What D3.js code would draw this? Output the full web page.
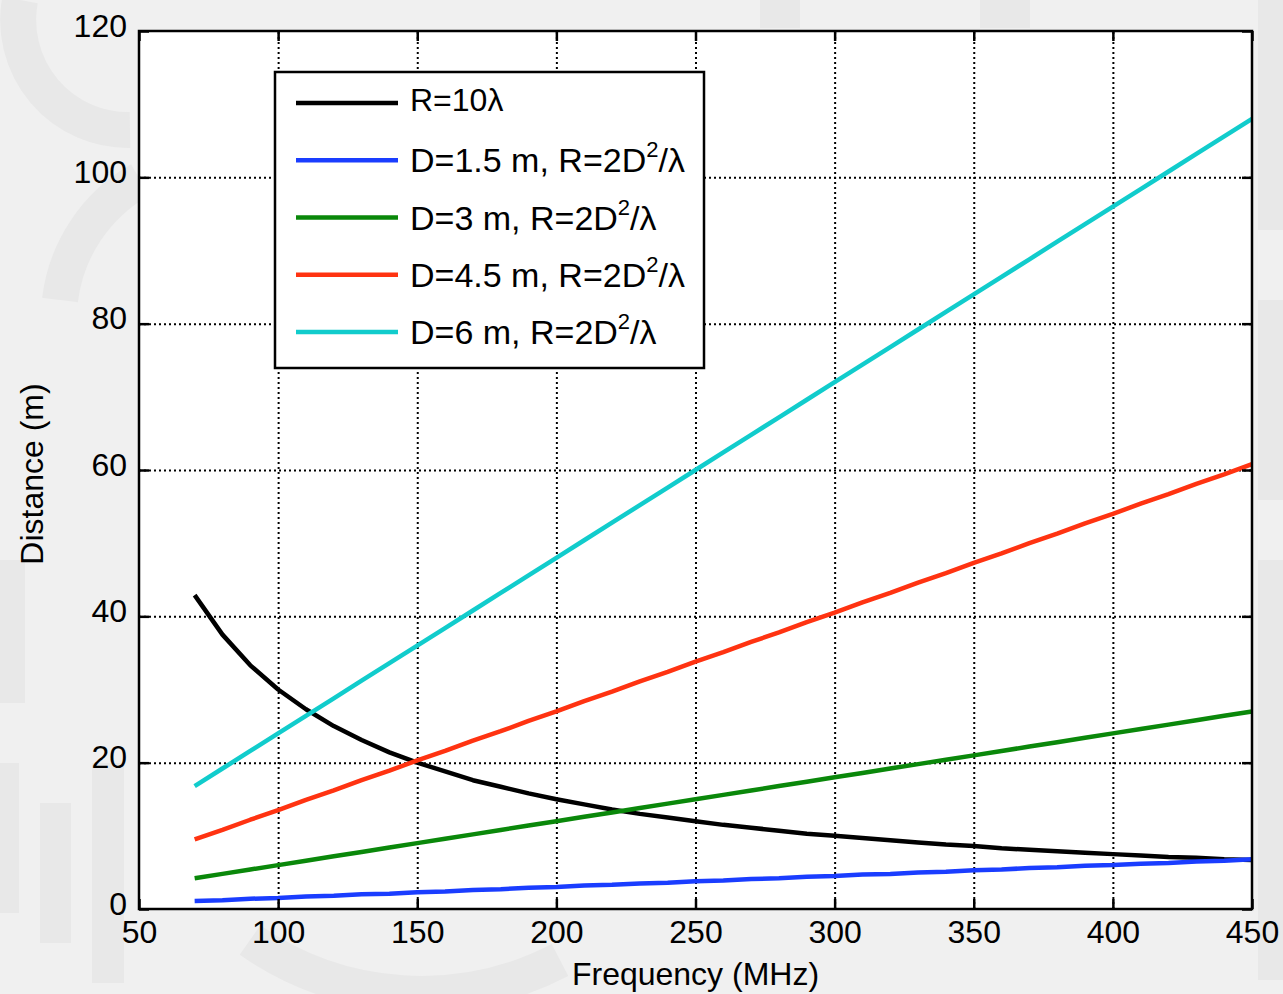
<!DOCTYPE html>
<html>
<head>
<meta charset="utf-8">
<script src="https://cdn.jsdelivr.net/npm/d3@7"></script>
<style>
  body { margin: 0; background: #f0f0f0; }
  svg { display: block; font-family: "Liberation Sans", Arial, sans-serif; }
</style>
</head>
<body>
<div id="chart"></div>
<script>
// frequency samples (MHz)
const freq = [70, 80, 90, 100, 110, 120, 130, 140, 150, 160, 170, 180, 190, 200, 210, 220, 230, 240, 250, 260,
              270, 280, 290, 300, 310, 320, 330, 340, 350, 360, 370, 380, 390, 400, 410, 420, 430, 440, 450];

// distances (m)
const r10Lambda = [42.9, 37.5, 33.3, 30.0, 27.3, 25.0, 23.1, 21.4, 20.0, 18.8, 17.6, 16.7, 15.8, 15.0, 14.3, 13.6, 13.0, 12.5, 12.0, 11.5,
                   11.1, 10.7, 10.3, 10.0, 9.7, 9.4, 9.1, 8.8, 8.6, 8.3, 8.1, 7.9, 7.7, 7.5, 7.3, 7.1, 7.0, 6.8, 6.7];
const d15 = [1.1, 1.2, 1.4, 1.5, 1.7, 1.8, 2.0, 2.1, 2.3, 2.4, 2.6, 2.7, 2.9, 3.0, 3.2, 3.3, 3.5, 3.6, 3.8, 3.9,
             4.1, 4.2, 4.4, 4.5, 4.7, 4.8, 5.0, 5.1, 5.3, 5.4, 5.6, 5.7, 5.9, 6.0, 6.2, 6.3, 6.5, 6.6, 6.8];
const d3m = [4.2, 4.8, 5.4, 6.0, 6.6, 7.2, 7.8, 8.4, 9.0, 9.6, 10.2, 10.8, 11.4, 12.0, 12.6, 13.2, 13.8, 14.4, 15.0, 15.6,
             16.2, 16.8, 17.4, 18.0, 18.6, 19.2, 19.8, 20.4, 21.0, 21.6, 22.2, 22.8, 23.4, 24.0, 24.6, 25.2, 25.8, 26.4, 27.0];
const d45 = [9.5, 10.8, 12.2, 13.5, 14.9, 16.2, 17.6, 18.9, 20.3, 21.6, 23.0, 24.3, 25.7, 27.0, 28.4, 29.7, 31.1, 32.4, 33.8, 35.1,
             36.5, 37.8, 39.2, 40.5, 41.9, 43.2, 44.6, 45.9, 47.3, 48.6, 50.0, 51.3, 52.7, 54.0, 55.4, 56.7, 58.1, 59.4, 60.8];
const d6 = [16.8, 19.2, 21.6, 24.0, 26.4, 28.8, 31.2, 33.6, 36.0, 38.4, 40.8, 43.2, 45.6, 48.0, 50.4, 52.8, 55.2, 57.6, 60.0, 62.4,
            64.8, 67.2, 69.6, 72.0, 74.4, 76.8, 79.2, 81.6, 84.0, 86.4, 88.8, 91.2, 93.6, 96.0, 98.4, 100.8, 103.2, 105.6, 108.0];

const xTicks = [50, 100, 150, 200, 250, 300, 350, 400, 450];
const yTicks = [0, 20, 40, 60, 80, 100, 120];

// legend entries: main text, and whether it has the "2D^2/λ" tail
const series = [
  { name: "R=10λ", values: r10Lambda, color: "#000000", tail: false },
  { name: "D=1.5 m, R=2D", values: d15, color: "#1a3dff", tail: true },
  { name: "D=3 m, R=2D", values: d3m, color: "#0a880a", tail: true },
  { name: "D=4.5 m, R=2D", values: d45, color: "#ff3311", tail: true },
  { name: "D=6 m, R=2D", values: d6, color: "#11cccc", tail: true }
];

const W = 1283, H = 994;
const margin = { top: 31, right: 31, bottom: 85, left: 139 };
const width = W - margin.left - margin.right;
const height = H - margin.top - margin.bottom;

const svg = d3.select("#chart").append("svg")
  .attr("width", W)
  .attr("height", H);

// page background + faint watermark shapes
svg.append("rect").attr("width", W).attr("height", H).attr("fill", "#f0f0f0");
const wm = svg.append("g").attr("fill", "none").attr("stroke", "#e8e8e8").attr("stroke-width", 36);
wm.append("path").attr("d", "M 20 0 A 110 110 0 0 0 130 130");
wm.append("path").attr("d", "M 60 300 A 160 160 0 0 1 140 180");
wm.append("path").attr("d", "M 250 940 A 300 300 0 0 0 560 960");
const wmFill = svg.append("g").attr("fill", "#e8e8e8");
wmFill.append("rect").attr("x", 0).attr("y", 560).attr("width", 25).attr("height", 143);
wmFill.append("rect").attr("x", 0).attr("y", 763).attr("width", 19).attr("height", 150);
wmFill.append("rect").attr("x", 40).attr("y", 803).attr("width", 31).attr("height", 140);
wmFill.append("rect").attr("x", 92).attr("y", 763).attr("width", 32).attr("height", 220);
wmFill.append("rect").attr("x", 1258).attr("y", 0).attr("width", 25).attr("height", 230);
wmFill.append("rect").attr("x", 1258).attr("y", 300).attr("width", 25).attr("height", 200);
wmFill.append("rect").attr("x", 1258).attr("y", 560).attr("width", 25).attr("height", 420);
wmFill.append("rect").attr("x", 760).attr("y", 0).attr("width", 40).attr("height", 28);
wmFill.append("rect").attr("x", 980).attr("y", 0).attr("width", 50).attr("height", 28);

const g = svg.append("g").attr("transform", `translate(${margin.left},${margin.top})`);

const x = d3.scaleLinear().domain([50, 450]).range([0, width]);
const y = d3.scaleLinear().domain([0, 120]).range([height, 0]);

// plot area
g.append("rect").attr("width", width).attr("height", height).attr("fill", "#ffffff");

// dotted grid
const grid = g.append("g").attr("class", "grid");
grid.append("g")
  .attr("transform", `translate(0,${height})`)
  .call(d3.axisBottom(x).tickValues(xTicks.slice(1, -1)).tickSize(-height).tickFormat(""))
  .call(s => s.select(".domain").remove());
grid.append("g")
  .call(d3.axisLeft(y).tickValues(yTicks.slice(1, -1)).tickSize(-width).tickFormat(""))
  .call(s => s.select(".domain").remove());
grid.selectAll("line")
  .attr("stroke", "#000")
  .attr("stroke-width", 2)
  .attr("stroke-dasharray", "2,3");

// data lines
const line = d3.line()
  .x((d, i) => x(freq[i]))
  .y(d => y(d));

g.selectAll(".series")
  .data(series)
  .enter()
  .append("path")
  .attr("class", "series")
  .attr("fill", "none")
  .attr("stroke", d => d.color)
  .attr("stroke-width", 4.5)
  .attr("stroke-linejoin", "round")
  .attr("d", d => line(d.values));

// axes with inward ticks
const tickLen = 10;
const xAxis = g.append("g")
  .attr("transform", `translate(0,${height})`)
  .call(d3.axisBottom(x).tickValues(xTicks).tickSize(-tickLen).tickSizeOuter(0).tickPadding(11));
const yAxis = g.append("g")
  .call(d3.axisLeft(y).tickValues(yTicks).tickSize(-tickLen).tickSizeOuter(0).tickPadding(12));
g.append("g")
  .call(d3.axisTop(x).tickValues(xTicks).tickSize(-tickLen).tickSizeOuter(0).tickFormat(""));
g.append("g")
  .attr("transform", `translate(${width},0)`)
  .call(d3.axisRight(y).tickValues(yTicks).tickSize(-tickLen).tickSizeOuter(0).tickFormat(""));

g.selectAll(".domain").remove();
g.selectAll(".tick line").filter(function() { return !this.closest(".grid"); })
  .attr("stroke", "#000").attr("stroke-width", 2.5);
g.selectAll(".tick text")
  .attr("fill", "#000")
  .style("font-size", "32px")
  .style("font-family", "'Liberation Sans', Arial, sans-serif");
yAxis.selectAll(".tick text").attr("dy", "0.16em");

// frame
g.append("rect")
  .attr("width", width)
  .attr("height", height)
  .attr("fill", "none")
  .attr("stroke", "#000")
  .attr("stroke-width", 2.5);

// axis titles
svg.append("text")
  .attr("x", margin.left + width / 2)
  .attr("y", 985)
  .attr("text-anchor", "middle")
  .style("font-size", "32px")
  .text("Frequency (MHz)");

svg.append("text")
  .attr("transform", "translate(43,474) rotate(-90)")
  .attr("text-anchor", "middle")
  .style("font-size", "32px")
  .text("Distance (m)");

// legend
const legend = svg.append("g").attr("transform", "translate(275,72)");
legend.append("rect")
  .attr("width", 429)
  .attr("height", 296)
  .attr("fill", "#ffffff")
  .attr("stroke", "#000")
  .attr("stroke-width", 2.5);

const rowY = d3.scalePoint().domain(d3.range(series.length)).range([31, 260]);

const rows = legend.selectAll(".row")
  .data(series)
  .enter()
  .append("g")
  .attr("class", "row")
  .attr("transform", (d, i) => `translate(0,${rowY(i)})`);

rows.append("line")
  .attr("x1", 21).attr("x2", 123)
  .attr("stroke", d => d.color)
  .attr("stroke-width", 4.5);

rows.each(function(d) {
  const t = d3.select(this).append("text")
    .attr("x", 135)
    .attr("y", d.tail ? 12 : 8)
    .style("font-size", d.tail ? "34px" : "32px");
  t.append("tspan").text(d.name);
  if (d.tail) {
    t.append("tspan").attr("dy", -15).style("font-size", "22px").text("2");
    t.append("tspan").attr("dy", 15).text("/λ");
  }
});
</script>
</body>
</html>
